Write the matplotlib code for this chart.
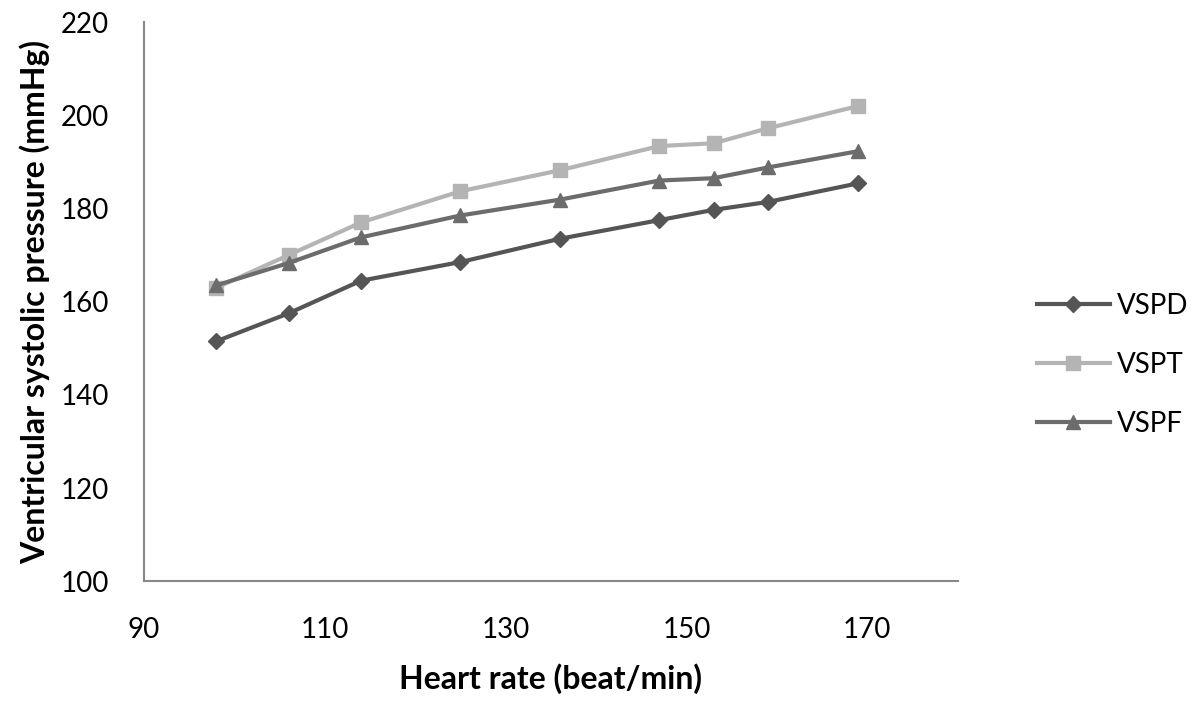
import matplotlib.pyplot as plt

plt.rcParams['font.family'] = ['Lato', 'DejaVu Sans']

heart_rate = [98, 106, 114, 125, 136, 147, 153, 159, 169]
vspd = [151.5, 157.5, 164.5, 168.5, 173.5, 177.5, 179.7, 181.4, 185.4]
vspt = [163, 170, 177, 183.7, 188.2, 193.4, 194, 197.2, 202]
vspf = [163.5, 168.3, 173.8, 178.5, 181.9, 186, 186.5, 188.8, 192.3]

fig = plt.figure(figsize=(12, 7.14), dpi=100)
ax = fig.add_axes([0.12, 0.186, 0.678, 0.783])

ax.plot(heart_rate, vspd, color='#555555', lw=3, marker='D', ms=8, label='VSPD')
ax.plot(heart_rate, vspt, color='#b4b4b4', lw=3, marker='s', ms=10, label='VSPT')
ax.plot(heart_rate, vspf, color='#6c6c6c', lw=3, marker='^', ms=10, label='VSPF')

ax.set_xlim(90, 180)
ax.set_ylim(100, 220)
ax.set_xticks([90, 110, 130, 150, 170])
ax.set_yticks(range(100, 221, 20))
ax.tick_params(length=0, labelsize=20)
ax.tick_params(axis='x', pad=26)
ax.tick_params(axis='y', pad=25)
for side in ['top', 'right']:
    ax.spines[side].set_visible(False)
for side in ['left', 'bottom']:
    ax.spines[side].set_color('#888888')
    ax.spines[side].set_linewidth(1.5)

ax.set_xlabel('Heart rate (beat/min)', fontsize=23, fontweight='bold', labelpad=14)
ax.set_ylabel('Ventricular systolic pressure (mmHg)', fontsize=23, fontweight='bold', labelpad=8)

ax.legend(loc='center left', bbox_to_anchor=(0.864, 0.489), bbox_transform=fig.transFigure,
          frameon=False, fontsize=20, labelspacing=1.2, handlelength=2.63, handletextpad=0.25,
          borderpad=0, borderaxespad=0)

fig.savefig('out.png')
